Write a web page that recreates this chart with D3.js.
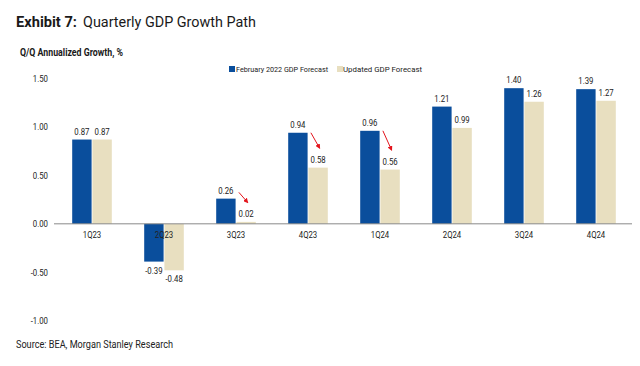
<!DOCTYPE html>
<html>
<head>
<meta charset="utf-8">
<script src="https://cdn.jsdelivr.net/npm/d3@7"></script>
<style>
  html, body { margin: 0; padding: 0; background: #fff; }
  svg { display: block; }
</style>
</head>
<body>
<svg id="chart" width="640" height="366"></svg>
<script>
const categories = ["1Q23", "2Q23", "3Q23", "4Q23", "1Q24", "2Q24", "3Q24", "4Q24"];
const seriesNames = ["February 2022 GDP Forecast", "Updated GDP Forecast"];
const febForecast = [0.87, -0.39, 0.26, 0.94, 0.96, 1.21, 1.40, 1.39];
const updatedForecast = [0.87, -0.48, 0.02, 0.58, 0.56, 0.99, 1.26, 1.27];
const yTicks = [-1.0, -0.5, 0.0, 0.5, 1.0, 1.5];
const arrowCategories = ["3Q23", "4Q23", "1Q24"];
const colors = ["#0a4e9c", "#e8dfc0"];

const svg = d3.select("#chart");
const font = 'Roboto, "Liberation Sans", sans-serif';
const CF = 0.82; // condensing factor

function condense(sel, f) {
  sel.each(function () {
    const len = this.getComputedTextLength();
    d3.select(this).attr("textLength", len * f).attr("lengthAdjust", "spacingAndGlyphs");
  });
}
function fitTo(sel, w) {
  sel.attr("textLength", w).attr("lengthAdjust", "spacingAndGlyphs");
}

// Title
fitTo(svg.append("text").attr("x", 16).attr("y", 27)
  .attr("font-family", font).attr("font-size", 15.5).attr("font-weight", "bold").attr("fill", "#1a1a1a")
  .text("Exhibit 7:"), 61);
fitTo(svg.append("text").attr("x", 83).attr("y", 27)
  .attr("font-family", font).attr("font-size", 15.5).attr("fill", "#1a1a1a")
  .text("Quarterly GDP Growth Path"), 173);

fitTo(svg.append("text").attr("x", 20).attr("y", 56)
  .attr("font-family", font).attr("font-size", 10.5).attr("font-weight", "bold").attr("fill", "#1a1a1a")
  .text("Q/Q Annualized Growth, %"), 103);

// Scales
const x0 = d3.scaleBand().domain(categories).range([56, 632]).paddingInner(0.45).paddingOuter(0.225);
const x1 = d3.scaleBand().domain(seriesNames).range([0, x0.bandwidth()]).paddingInner(0.04);
const y = d3.scaleLinear().domain([-1, 1.5]).range([320.7, 78.5]);

const data = categories.map((c, i) => ({ cat: c, values: [febForecast[i], updatedForecast[i]] }));
const fmt = v => (v < 0 ? "-" : "") + d3.format(".2f")(Math.abs(v));

// Y axis labels
const yAxis = d3.axisLeft(y).tickValues(yTicks).tickSize(0).tickPadding(0);
const gy = svg.append("g").attr("transform", "translate(48,0)").call(yAxis);
gy.select(".domain").remove();
gy.selectAll("text").attr("font-family", font).attr("font-size", 9.5).attr("fill", "#222")
  .text(d => fmt(d)).call(condense, CF);

// Bars
const groups = svg.append("g").selectAll("g").data(data).join("g")
  .attr("transform", d => `translate(${x0(d.cat)},0)`);
groups.selectAll("rect").data(d => d.values.map((v, j) => ({ v, s: seriesNames[j], j }))).join("rect")
  .attr("x", d => x1(d.s))
  .attr("width", x1.bandwidth())
  .attr("y", d => y(Math.max(0, d.v)))
  .attr("height", d => Math.abs(y(d.v) - y(0)))
  .attr("fill", d => colors[d.j]);

// Zero line
svg.append("line").attr("x1", 54).attr("x2", 632).attr("y1", y(0)).attr("y2", y(0))
  .attr("stroke", "#8a8a8a").attr("stroke-width", 1);

// X axis labels
const xAxis = d3.axisBottom(x0).tickSize(0).tickPadding(0);
const gx = svg.append("g").attr("transform", `translate(0,${y(0)})`).call(xAxis);
gx.select(".domain").remove();
gx.selectAll("text").attr("font-family", font).attr("font-size", 9.5).attr("fill", "#222")
  .attr("dy", null).attr("y", 14).call(condense, CF);

// Value labels
groups.selectAll("text.val").data(d => d.values.map((v, j) => ({ v, s: seriesNames[j], j }))).join("text")
  .attr("class", "val")
  .attr("x", d => x1(d.s) + x1.bandwidth() / 2)
  .attr("y", d => d.v >= 0 ? y(d.v) - 5 : y(d.v) + 12)
  .attr("text-anchor", "middle")
  .attr("font-family", font).attr("font-size", 9.5).attr("fill", "#222")
  .text(d => fmt(d.v)).call(condense, CF);

// Arrows
const defs = svg.append("defs");
defs.append("marker").attr("id", "arrowhead").attr("viewBox", "0 0 10 10")
  .attr("refX", 8).attr("refY", 5).attr("markerWidth", 5).attr("markerHeight", 5)
  .attr("orient", "auto-start-reverse")
  .append("path").attr("d", "M0,0 L10,5 L0,10 Z").attr("fill", "#e3141c");

arrowCategories.forEach(c => {
  const i = categories.indexOf(c);
  const bx = x0(c) + x1(seriesNames[0]) + x1.bandwidth() / 2;
  const ux = x0(c) + x1(seriesNames[1]) + x1.bandwidth() / 2;
  const ey = y(updatedForecast[i]) - 19.5;
  const sy = Math.min(y(febForecast[i]), ey - 10);
  svg.append("line")
    .attr("x1", bx + 13).attr("y1", sy)
    .attr("x2", ux + 1.5).attr("y2", ey)
    .attr("stroke", "#e3141c").attr("stroke-width", 1)
    .attr("marker-end", "url(#arrowhead)");
});

// Legend
const legendPos = [{ sq: 0, tx: 7, w: 92 }, { sq: 108, tx: 114, w: 79 }];
const legend = svg.append("g").attr("transform", "translate(229,72)");
seriesNames.forEach((s, j) => {
  const p = legendPos[j];
  legend.append("rect").attr("x", p.sq).attr("y", -6).attr("width", 6).attr("height", 6).attr("fill", colors[j]);
  legend.append("text").attr("x", p.tx).attr("y", 0)
    .attr("font-family", font).attr("font-size", 8).attr("fill", "#222").text(s)
    .call(fitTo, p.w);
});

// Source
fitTo(svg.append("text").attr("x", 16).attr("y", 348)
  .attr("font-family", font).attr("font-size", 10).attr("fill", "#222")
  .text("Source: BEA, Morgan Stanley Research"), 157);
</script>
</body>
</html>
